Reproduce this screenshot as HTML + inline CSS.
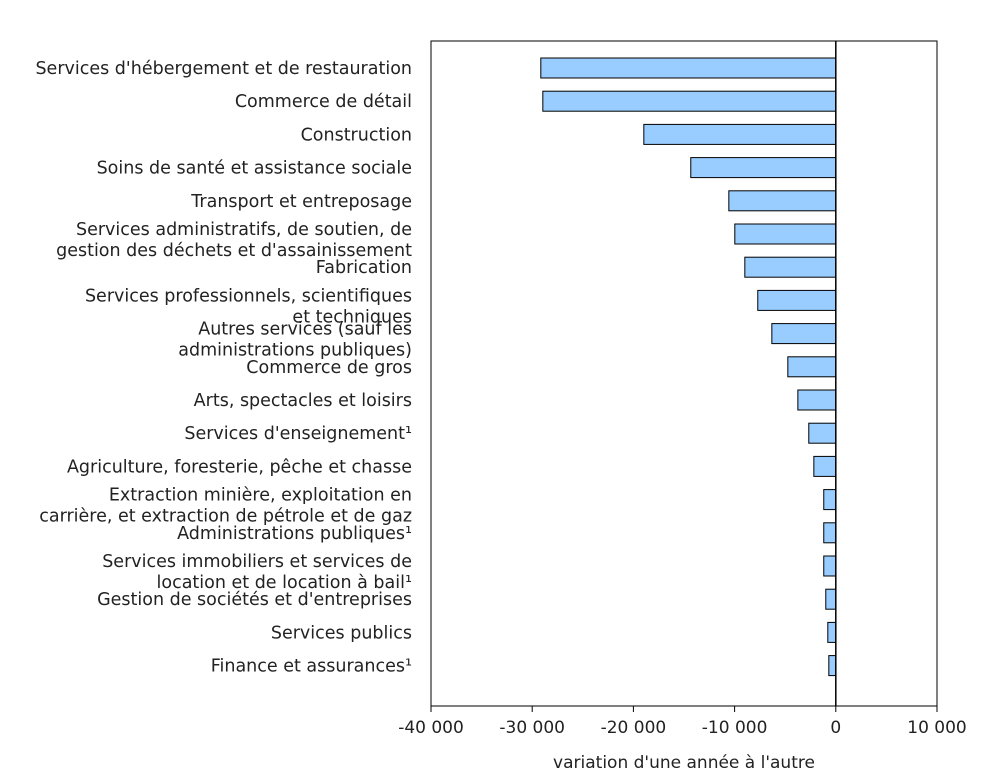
<!DOCTYPE html>
<html><head><meta charset="utf-8"><style>
body{margin:0;background:#fff;}
svg text{font-family:"DejaVu Sans","Liberation Sans",sans-serif;fill:#222;}
</style></head><body>
<svg id="chart" width="985" height="777" xmlns="http://www.w3.org/2000/svg"></svg>
<script>
const categories=[
["Services d'hébergement et de restauration"],
["Commerce de détail"],
["Construction"],
["Soins de santé et assistance sociale"],
["Transport et entreposage"],
["Services administratifs, de soutien, de","gestion des déchets et d'assainissement"],
["Fabrication"],
["Services professionnels, scientifiques","et techniques"],
["Autres services (sauf les","administrations publiques)"],
["Commerce de gros"],
["Arts, spectacles et loisirs"],
["Services d'enseignement¹"],
["Agriculture, foresterie, pêche et chasse"],
["Extraction minière, exploitation en","carrière, et extraction de pétrole et de gaz"],
["Administrations publiques¹"],
["Services immobiliers et services de","location et de location à bail¹"],
["Gestion de sociétés et d'entreprises"],
["Services publics"],
["Finance et assurances¹"]];
const values=[-29150,-28950,-18970,-14330,-10570,-9980,-8990,-7710,-6320,-4740,-3750,-2670,-2170,-1190,-1190,-1190,-990,-790,-690];
const ticks=[-40000,-30000,-20000,-10000,0,10000];
const tickLabels=["-40 000","-30 000","-20 000","-10 000","0","10 000"];
const svg=document.getElementById('chart');
const NS="http://www.w3.org/2000/svg";
const L=431,R=937,T=41,B=706,xmin=-40000,xmax=10000;
const x=v=>L+(v-xmin)/(xmax-xmin)*(R-L);
const y=i=>68+33.2*i;
function mk(tag,a,txt){const e=document.createElementNS(NS,tag);for(const k in a)e.setAttribute(k,a[k]);if(txt!==undefined)e.textContent=txt;svg.appendChild(e);return e;}
const frame=mk('rect',{x:L,y:T,width:R-L,height:B-T,fill:'none',stroke:'#000','stroke-width':1});


values.forEach((v,i)=>{
 const r=mk('rect',{x:Math.min(x(v),x(0)),y:y(i)-10,width:Math.abs(x(v)-x(0)),height:20,fill:'#99ccff',stroke:'#000','stroke-width':1});
 
 
 const n=categories[i].length;
 categories[i].forEach((line,j)=>{
  const t=mk('text',{x:412,y:y(i)+6+(n>1?-5:0)+j*21,'text-anchor':'end','font-size':'17.5px'},line);
  
  
 });
});
const z=mk('line',{x1:x(0),x2:x(0),y1:T,y2:B,stroke:'#000','stroke-width':1.5});


ticks.forEach((v,i)=>{
 const tk=mk('line',{x1:x(v),x2:x(v),y1:B,y2:B+6,stroke:'#000'});
 
 
 const t=mk('text',{x:x(v),y:733,'text-anchor':'middle','font-size':'17px'},tickLabels[i]);
 
 
});
const at=mk('text',{x:684,y:768,'text-anchor':'middle','font-size':'17px'},"variation d'une année à l'autre");


</script>
</body></html>
